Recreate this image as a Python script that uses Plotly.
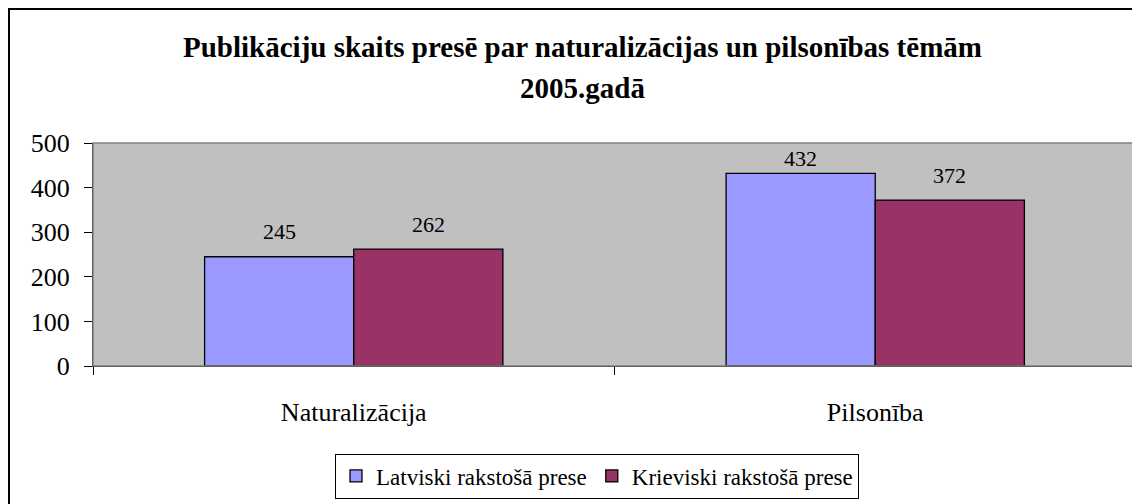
import plotly.graph_objects as go

categories = ["Naturalizācija", "Pilsonība"]
series_names = ["Latviski rakstošā prese", "Krieviski rakstošā prese"]
latviski = [245, 432]
krieviski = [262, 372]
y_ticks = [0, 100, 200, 300, 400, 500]
title_lines = ["Publikāciju skaits presē par naturalizācijas un pilsonības tēmām", "2005.gadā"]

colors = ["#9999FF", "#993366"]
W, H = 1140, 504
OFF = 8  # page body margin offset
ml, mr, mt, mb = 93 - OFF, 12, 143 - OFF, 146
pw = W - ml - mr
ph = H - mt - mb
YMAX = 500

FAM = "Liberation Serif"

fig = go.Figure()
for name, vals, col in zip(series_names, [latviski, krieviski], colors):
    fig.add_trace(go.Bar(
        x=categories, y=vals, name=name,
        marker=dict(color=col, line=dict(color="black", width=1.3)),
    ))

bargap = 0.428
bar_w = (1 - bargap) / 2
offsets = [-0.5, 0.5]
for vals, off in zip([latviski, krieviski], offsets):
    for i, v in enumerate(vals):
        # keep labels inside the plot area like the original
        shift = min(25, (YMAX - v) * ph / YMAX - 15)
        fig.add_annotation(
            x=i + off * bar_w, y=v, xref="x", yref="y",
            text=str(v), showarrow=False, yshift=shift,
            font=dict(family=FAM, size=22, color="black"),
        )

def px_to_paper_x(px):
    return (px - OFF - ml) / pw

def px_to_paper_y(py):
    return (H - mb - (py - OFF)) / ph

for line, ypx in zip(title_lines, [47, 88]):
    fig.add_annotation(
        x=px_to_paper_x(582), y=px_to_paper_y(ypx), xref="paper", yref="paper",
        text="<b>" + line + "</b>", showarrow=False, xanchor="center", yanchor="middle",
        font=dict(family=FAM, size=29, color="black"),
    )

fig.add_shape(type="rect", xref="paper", yref="paper",
              x0=px_to_paper_x(9), x1=px_to_paper_x(1160),
              y0=px_to_paper_y(560), y1=px_to_paper_y(9),
              line=dict(color="black", width=2), layer="below")
fig.add_shape(type="rect", xref="paper", yref="paper", x0=0, x1=1, y0=0, y1=1,
              line=dict(color="#808080", width=1.5), layer="above")

fig.update_layout(
    width=W, height=H,
    margin=dict(l=ml, r=mr, t=mt, b=mb),
    paper_bgcolor="white", plot_bgcolor="#C0C0C0",
    barmode="group", bargap=bargap, bargroupgap=0,
    showlegend=True,
    legend=dict(orientation="h", x=px_to_paper_x(597), y=px_to_paper_y(476),
                xanchor="center", yanchor="middle",
                bordercolor="black", borderwidth=1, bgcolor="white",
                font=dict(family=FAM, size=23, color="black"), itemwidth=30,
                tracegroupgap=0),
)
fig.update_yaxes(range=[0, YMAX], tickvals=y_ticks, ticks="outside", ticklen=8,
                 tickcolor="black", showline=True, linecolor="black", linewidth=1,
                 showgrid=False, zeroline=False, ticklabelstandoff=9,
                 tickfont=dict(family=FAM, size=26, color="black"))
fig.update_xaxes(ticks="outside", tickson="boundaries", ticklen=8, tickcolor="black",
                 showline=True, linecolor="black", linewidth=1, showgrid=False,
                 ticklabelstandoff=23, tickfont=dict(family=FAM, size=26, color="black"))

fig.write_html("out.html")
